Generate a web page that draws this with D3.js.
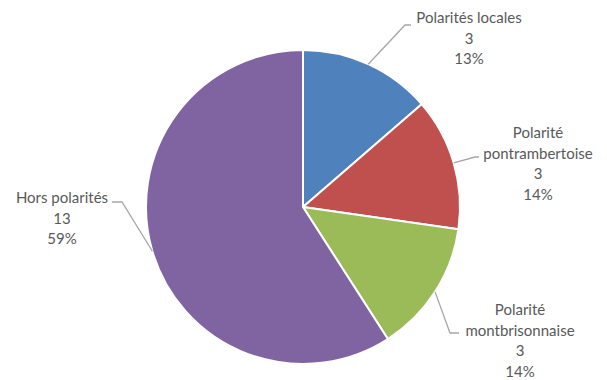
<!DOCTYPE html>
<html>
<head>
<meta charset="utf-8">
<script src="https://cdn.jsdelivr.net/npm/d3@7"></script>
<style>
  html, body { margin: 0; padding: 0; background: #fff; }
  svg { display: block; }
  .lbl { font-family: Lato, "Liberation Sans", sans-serif; font-size: 15px; fill: #595959; }
</style>
</head>
<body>
<svg id="chart" width="607" height="380"></svg>
<script>
// categories and values
const categories = ['Polarités locales', 'Polarité pontrambertoise', 'Polarité montbrisonnaise', 'Hors polarités'];
const values = [3, 3, 3, 13];
const percentLabels = ['13%', '14%', '14%', '59%'];
const labelLines = [
  ['Polarités locales'],
  ['Polarité', 'pontrambertoise'],
  ['Polarité', 'montbrisonnaise'],
  ['Hors polarités'],
];
const colors = ['#4f81bd', '#c0504d', '#9bbb59', '#8064a2'];

// label block placement (centre x, first line y) and leader elbow
const labelLayout = [
  { x: 469, y: 17, elbow: [405, 25], end: [411, 25] },
  { x: 538, y: 132, elbow: [475, 157], end: [479, 157] },
  { x: 520, y: 309, elbow: [450, 333], end: [459, 333] },
  { x: 62, y: 197, elbow: [122, 202], end: [112, 202] },
];

const W = 607, H = 380;
const cx = 303, cy = 207, r = 157;
const lineH = 20.5;

const svg = d3.select('#chart');
const g = svg.append('g').attr('transform', `translate(${cx},${cy})`);

const pie = d3.pie().sort(null).value(d => d);
const arcs = pie(values);
const arc = d3.arc().innerRadius(0).outerRadius(r);
const edge = d3.arc().innerRadius(r).outerRadius(r);

g.selectAll('path.slice')
  .data(arcs)
  .enter()
  .append('path')
  .attr('class', 'slice')
  .attr('d', arc)
  .style('fill', (d, i) => colors[i])
  .style('stroke', '#fff')
  .style('stroke-width', 2)
  .style('stroke-linejoin', 'round');

// leader lines
g.selectAll('polyline.leader')
  .data(arcs)
  .enter()
  .append('polyline')
  .attr('class', 'leader')
  .attr('points', (d, i) => {
    const [sx, sy] = edge.centroid(d);
    const L = labelLayout[i];
    return [[sx, sy], [L.elbow[0] - cx, L.elbow[1] - cy], [L.end[0] - cx, L.end[1] - cy]]
      .map(p => p.join(',')).join(' ');
  })
  .style('fill', 'none')
  .style('stroke', '#a6a6a6')
  .style('stroke-width', 1.3);

// labels
categories.forEach((c, i) => {
  const L = labelLayout[i];
  const lines = labelLines[i].concat([String(values[i]), percentLabels[i]]);
  const t = svg.append('text')
    .attr('class', 'lbl')
    .attr('text-anchor', 'middle')
    .attr('dominant-baseline', 'central');
  lines.forEach((s, k) => {
    t.append('tspan').attr('x', L.x).attr('y', L.y + k * lineH).text(s);
  });
});
</script>
</body>
</html>
